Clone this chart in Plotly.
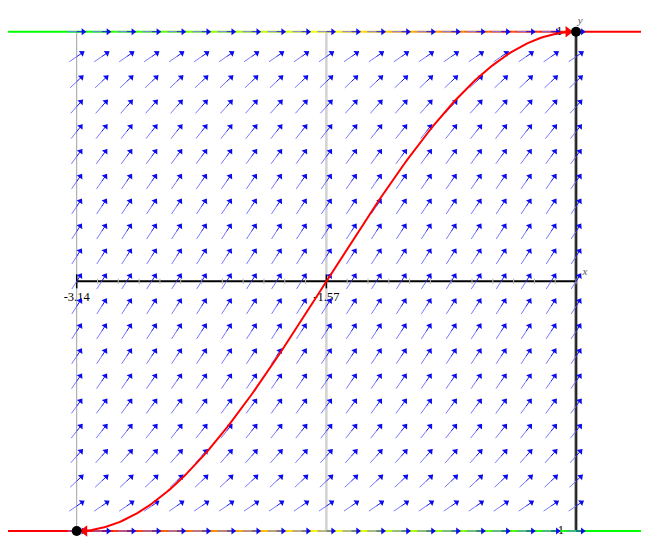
import numpy as np
import plotly.graph_objects as go
import colorsys

# ---- data ----
x_cols = np.linspace(-np.pi, 0, 21)          # direction field columns
y_rows = np.round(np.linspace(-1, 1, 21), 2)  # direction field rows
x_ticks = [-np.pi, -np.pi / 2]
x_tick_labels = ["-3.14", "-1.57"]
y_tick_vals = [1, -1]
y_tick_labels = ["1", "-1"]
curve_x = np.linspace(-np.pi, 0, 200)
curve_y = np.cos(curve_x)                      # solution of y' = sqrt(1-y^2)

W, H = 641, 537
XR = [-3.5738, 0.459]
YR = [-1.056, 1.095]
sx = W / (XR[1] - XR[0])
sy = H / (YR[1] - YR[0])

fig = go.Figure()

# vertical reference lines (below)
fig.add_shape(type="line", x0=-np.pi, x1=-np.pi, y0=-1, y1=1, line=dict(color="rgb(160,160,160)", width=1), layer="below")
fig.add_shape(type="line", x0=-np.pi/2, x1=-np.pi/2, y0=-1, y1=1, line=dict(color="rgb(210,210,210)", width=2.5), layer="below")
fig.add_shape(type="line", x0=0, x1=0, y0=-1, y1=1, line=dict(color="rgb(175,175,175)", width=4), layer="below")
fig.add_shape(type="line", x0=0, x1=0, y0=-1, y1=1, line=dict(color="black", width=1.5), layer="below")

# labels
fig.add_trace(go.Scatter(x=x_ticks, y=[-0.065, -0.065], mode="text", text=x_tick_labels,
                         textfont=dict(family="Liberation Serif", size=12.5, color="black"),
                         hoverinfo="skip"))
fig.add_trace(go.Scatter(x=[-0.085, -0.075], y=y_tick_vals, mode="text", text=y_tick_labels,
                         textposition="middle left",
                         textfont=dict(family="Liberation Serif", size=12.5, color="black"),
                         hoverinfo="skip"))
fig.add_trace(go.Scatter(x=[0.01, 0.04], y=[1.04, 0.035], mode="text", text=["<i>y</i>", "<i>x</i>"],
                         textposition="middle right",
                         textfont=dict(family="Liberation Serif", size=11, color="rgb(90,90,90)"),
                         hoverinfo="skip"))

# coloured lines y = 1 and y = -1
def hue_col(h):
    r, g, b = colorsys.hsv_to_rgb(h / 360.0, 1, 1)
    return f"rgb({int(r*255)},{int(g*255)},{int(b*255)})"

nseg = 40
edges = np.linspace(-np.pi, 0, nseg + 1)
for yy, h_left, h_right in [(1, 120, 0), (-1, 0, 120)]:
    fig.add_trace(go.Scatter(x=[XR[0], -np.pi], y=[yy, yy], mode="lines",
                             line=dict(color=hue_col(h_left), width=2), hoverinfo="skip"))
    for i in range(nseg):
        t = (i + 0.5) / nseg
        h = h_left + (h_right - h_left) * t
        fig.add_trace(go.Scatter(x=[edges[i], edges[i+1]], y=[yy, yy], mode="lines",
                                 line=dict(color=hue_col(h), width=2), hoverinfo="skip"))
    fig.add_trace(go.Scatter(x=[0, XR[1]], y=[yy, yy], mode="lines",
                             line=dict(color=hue_col(h_right), width=2), hoverinfo="skip"))

# x axis
fig.add_trace(go.Scatter(x=[-np.pi, 0], y=[0, 0], mode="lines",
                         line=dict(color="black", width=2), hoverinfo="skip"))
minor = np.linspace(-np.pi, 0, 25)
fig.add_trace(go.Scatter(x=minor, y=np.zeros_like(minor), mode="markers",
                         marker=dict(symbol="line-ns", size=4, line=dict(color="rgb(185,185,185)", width=1)),
                         hoverinfo="skip"))
fig.add_trace(go.Scatter(x=x_ticks, y=[0, 0], mode="markers",
                         marker=dict(symbol="line-ns", size=10, line=dict(color="black", width=1.5)),
                         hoverinfo="skip"))

# direction field
L = 18.0
tx1, ty1, tx2, ty2, hx, hy, ang = [], [], [], [], [], [], []
for yv in y_rows:
    m = np.sqrt(max(0.0, 1 - yv**2))
    px, py = sx, sy * m
    n = np.hypot(px, py)
    ux, uy = px / n, py / n
    for xv in x_cols:
        x0 = xv - (L/2) * ux / sx
        y0 = yv - (L/2) * uy / sy
        x1 = xv + (L/2) * ux / sx
        y1 = yv + (L/2) * uy / sy
        tx1 += [x0, xv, None]; ty1 += [y0, yv, None]
        tx2 += [xv, x1, None]; ty2 += [yv, y1, None]
        hx.append(x1 - 2.5 * ux / sx); hy.append(y1 - 2.5 * uy / sy)
        ang.append(-np.degrees(np.arctan2(uy, ux)))
fig.add_trace(go.Scatter(x=tx1, y=ty1, mode="lines", line=dict(color="rgb(120,120,255)", width=1), hoverinfo="skip"))
fig.add_trace(go.Scatter(x=tx2, y=ty2, mode="lines", line=dict(color="rgb(20,20,240)", width=1), hoverinfo="skip"))
fig.add_trace(go.Scatter(x=hx, y=hy, mode="markers",
                         marker=dict(symbol="triangle-right", size=6, angle=ang, color="rgb(10,10,240)",
                                     line=dict(width=0)), hoverinfo="skip"))

# solution curve
fig.add_trace(go.Scatter(x=curve_x, y=curve_y, mode="lines", line=dict(color="red", width=2), hoverinfo="skip"))
fig.add_trace(go.Scatter(x=[-np.pi + 8 / sx, 0 - 8 / sx], y=[-1, 1], mode="markers",
                         marker=dict(symbol=["triangle-left", "triangle-right"], size=10, color="red",
                                     line=dict(width=0)), hoverinfo="skip"))
fig.add_trace(go.Scatter(x=[-np.pi, 0], y=[-1, 1], mode="markers",
                         marker=dict(size=10, color="black"), hoverinfo="skip"))

fig.update_layout(
    width=W, height=H, margin=dict(l=0, r=0, t=0, b=0),
    paper_bgcolor="white", plot_bgcolor="white", showlegend=False,
    xaxis=dict(range=XR, visible=False, fixedrange=True),
    yaxis=dict(range=YR, visible=False, fixedrange=True),
)
fig.write_html("out.html")
